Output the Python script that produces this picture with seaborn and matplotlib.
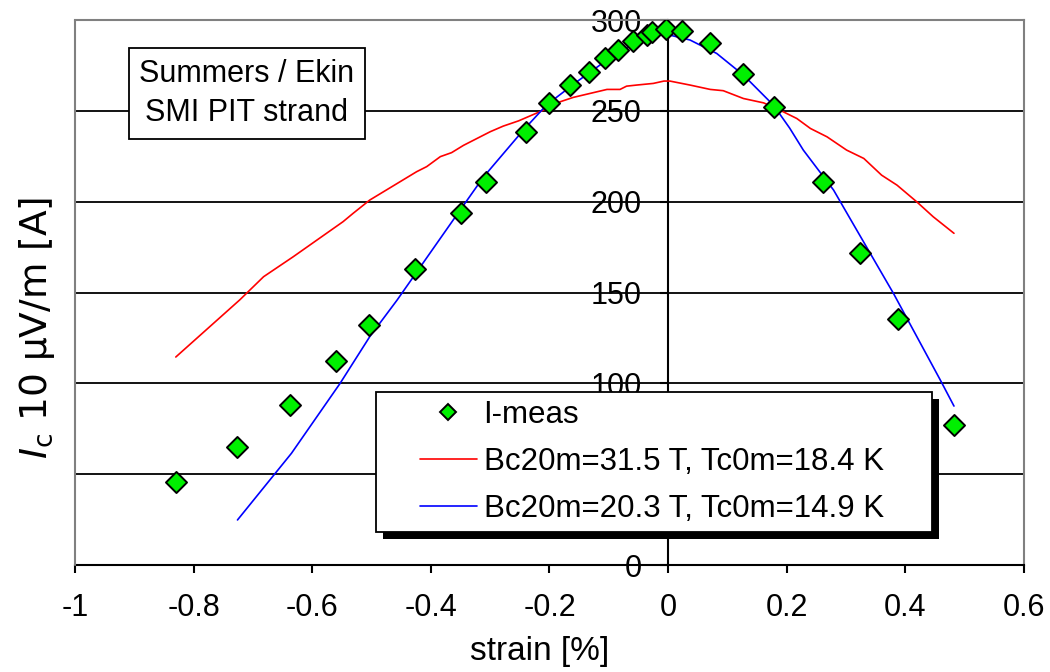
import numpy as np
import matplotlib
matplotlib.use('Agg')
import matplotlib.pyplot as plt
import matplotlib.patheffects as pe
from matplotlib.lines import Line2D
from matplotlib.legend_handler import HandlerLine2D
import seaborn as sns
import pandas as pd

# measured critical current vs strain
meas_strain = [-0.830, -0.727, -0.637, -0.560, -0.504, -0.427, -0.349, -0.307, -0.239, -0.201,
               -0.165, -0.133, -0.106, -0.084, -0.060, -0.035, -0.027, -0.003, 0.024, 0.071,
               0.127, 0.179, 0.262, 0.324, 0.387, 0.482]
meas_ic = [45.7, 64.9, 88.0, 112.3, 132.0, 163.0, 193.7, 210.8, 238.3, 254.3,
           264.2, 271.3, 279.0, 283.4, 288.5, 291.8, 293.5, 294.8, 293.9, 287.5,
           270.2, 251.9, 210.6, 171.5, 135.2, 76.9]

# fit Bc20m=31.5 T, Tc0m=18.4 K
fit1_strain = [-0.830, -0.722, -0.682, -0.632, -0.548, -0.531, -0.503, -0.424, -0.407, -0.384,
               -0.365, -0.345, -0.300, -0.278, -0.252, -0.210, -0.182, -0.160, -0.103, -0.081,
               -0.070, -0.053, -0.025, -0.007, 0.003, 0.037, 0.071, 0.093, 0.127, 0.161,
               0.183, 0.217, 0.240, 0.268, 0.301, 0.330, 0.360, 0.386, 0.419, 0.447, 0.482]
fit1_ic = [114.5, 146.0, 158.7, 169.7, 189.0, 193.6, 200.9, 216.5, 219.3, 224.8,
           227.0, 231.0, 238.5, 241.6, 244.5, 250.4, 255.0, 257.4, 261.8, 261.8,
           263.6, 264.2, 265.1, 266.4, 266.4, 264.2, 261.8, 261.1, 256.8, 254.4,
           251.3, 245.8, 240.3, 235.7, 228.4, 223.8, 214.6, 209.1, 200.0, 191.7, 182.6]

# fit Bc20m=20.3 T, Tc0m=14.9 K
fit2_strain = [-0.726, -0.635, -0.553, -0.503, -0.457, -0.360, -0.311, -0.244, -0.205, -0.154,
               -0.103, -0.058, -0.019, 0.003, 0.037, 0.082, 0.127, 0.178, 0.205, 0.228, 0.279,
               0.307, 0.380, 0.459, 0.482]
fit2_ic = [24.8, 61.5, 100.0, 125.7, 145.8, 191.0, 213.7, 239.4, 253.2, 266.0,
           278.0, 287.1, 292.0, 291.7, 289.0, 281.6, 269.7, 253.0, 240.5, 228.4, 206.4,
           190.6, 149.5, 101.8, 87.5]

x_ticks = [-1, -0.8, -0.6, -0.4, -0.2, 0, 0.2, 0.4, 0.6]
x_tick_labels = ['-1', '-0.8', '-0.6', '-0.4', '-0.2', '0', '0.2', '0.4', '0.6']
y_ticks = [0, 50, 100, 150, 200, 250, 300]
y_tick_labels = ['0', '', '100', '150', '200', '250', '300']  # 50 sits behind the legend

labels = ['I-meas', 'Bc20m=31.5 T, Tc0m=18.4 K', 'Bc20m=20.3 T, Tc0m=14.9 K']

sns.set_style('white')
plt.rcParams['font.family'] = ['Liberation Sans', 'DejaVu Sans']
plt.rcParams['mathtext.fontset'] = 'custom'
plt.rcParams['mathtext.rm'] = 'DejaVu Sans'
plt.rcParams['mathtext.it'] = 'DejaVu Sans:italic'
plt.rcParams['axes.unicode_minus'] = False
for k in ['text.color', 'axes.labelcolor', 'xtick.color', 'ytick.color']:
    plt.rcParams[k] = 'black'

df_meas = pd.DataFrame({'strain': meas_strain, 'ic': meas_ic})
df_fit1 = pd.DataFrame({'strain': fit1_strain, 'ic': fit1_ic})
df_fit2 = pd.DataFrame({'strain': fit2_strain, 'ic': fit2_ic})

fig = plt.figure(figsize=(10.5, 6.72), dpi=100)
ax = fig.add_axes([0.0714, 0.1592, 0.9038, 0.811])

sns.lineplot(data=df_fit1, x='strain', y='ic', ax=ax, color='#ff0000', lw=1.2,
             sort=False, estimator=None, zorder=3)
sns.lineplot(data=df_fit2, x='strain', y='ic', ax=ax, color='#0000ff', lw=1.2,
             sort=False, estimator=None, zorder=3)
sns.scatterplot(data=df_meas, x='strain', y='ic', ax=ax, marker='D', s=115,
                color='#00f000', edgecolor='black', linewidth=1.4, zorder=4)

ax.set_xlim(-1, 0.6)
ax.set_ylim(0, 300)
ax.set_xticks(x_ticks, x_tick_labels)
ax.set_yticks(y_ticks, y_tick_labels)

ax.yaxis.grid(True, color='black', lw=1.3)
ax.set_axisbelow(True)

# frame: grey box, black axes crossing at zero
ax.spines['left'].set_position(('data', 0))
ax.spines['left'].set_color('black')
ax.spines['left'].set_linewidth(1.5)
ax.spines['bottom'].set_color('black')
ax.spines['bottom'].set_linewidth(1.5)
for s in ['top', 'right']:
    ax.spines[s].set_color('#808080')
    ax.spines[s].set_linewidth(1.5)
ax.axvline(-1, color='#808080', lw=1.5, clip_on=False, zorder=5)

ax.tick_params(axis='y', direction='out', length=6, width=1.5, pad=13, labelsize=22, left=True)
ax.tick_params(axis='x', direction='out', length=6, width=1.5, pad=14, labelsize=22, bottom=True)

ax.set_xlabel('strain [%]', fontsize=24)
ax.xaxis.set_label_coords(0.49, -0.158)
ax.xaxis.label.set_va('center')
ax.set_ylabel(r'$I_\mathrm{c}$ 10 μV/m [A]', fontsize=27, family='DejaVu Sans')
ax.yaxis.set_label_coords(-0.04, 0.435)
ax.yaxis.label.set_va('center')

ax.text(-0.71, 259.4, 'Summers / Ekin\nSMI PIT strand', ha='center', va='center', fontsize=22,
        linespacing=1.4, zorder=6,
        bbox=dict(boxstyle='square,pad=0.35', fc='white', ec='black', lw=1.3))

handles = [Line2D([], [], ls='none', marker='D', ms=8, mfc='#00f000', mec='black', mew=1.4),
           Line2D([], [], color='#ff0000', lw=1.2),
           Line2D([], [], color='#0000ff', lw=1.2)]
leg = ax.legend(handles, labels, loc='upper left', bbox_to_anchor=(0.317, 0.0, 0.586, 0.3174),
                mode='expand', borderaxespad=0, fontsize=22.5, frameon=True, fancybox=False,
                edgecolor='black', framealpha=1, borderpad=0.25, labelspacing=0.55,
                handlelength=3.0, handletextpad=0.2,
                handler_map={Line2D: HandlerLine2D(xpad=1.15)})
leg.get_frame().set_linewidth(1.3)
leg.get_frame().set_path_effects([pe.SimplePatchShadow(offset=(5, -5), shadow_rgbFace='black', alpha=1.0),
                                  pe.Normal()])
leg.set_zorder(7)

plt.savefig('out.png', dpi=100)
plt.close()
